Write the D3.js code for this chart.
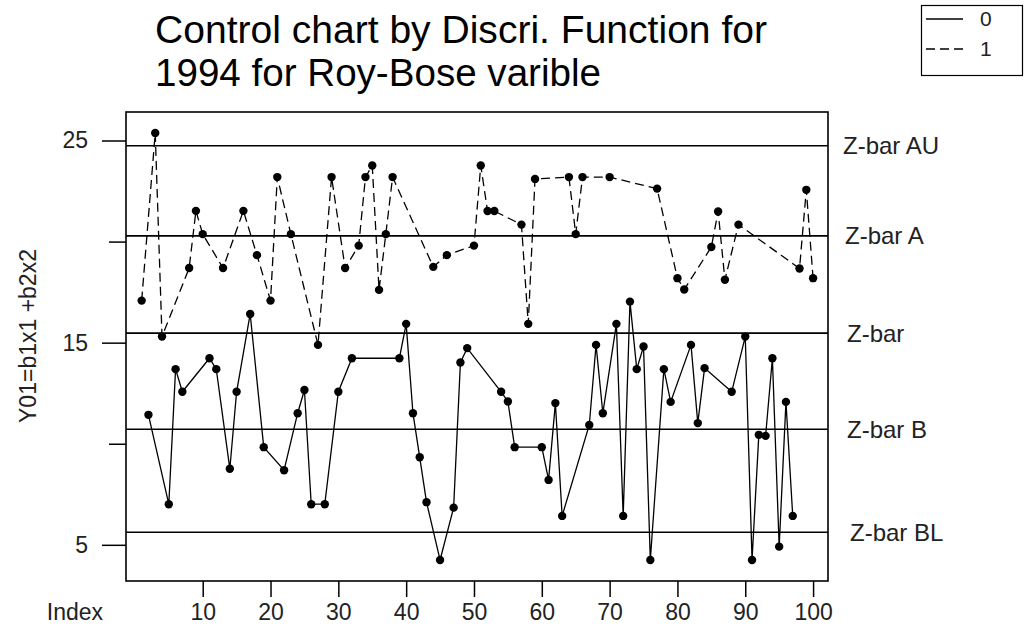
<!DOCTYPE html>
<html>
<head>
<meta charset="utf-8">
<script src="https://cdn.jsdelivr.net/npm/d3@7"></script>
<style>
  body { margin: 0; background: #fff; }
  svg { display: block; font-family: "Liberation Sans", Arial, sans-serif; }
</style>
</head>
<body>
<svg id="chart"></svg>
<script>
const width = 1028;
const height = 639;

// group "0" (solid line)
const index0 = [2, 5, 6, 7, 11, 12, 14, 15, 17, 19, 22, 24, 25, 26, 28, 30, 32, 39, 40, 41,
  42, 43, 45, 47, 48, 49, 54, 55, 56, 60, 61, 62, 63, 67, 68, 69, 71, 72, 73, 74,
  75, 76, 78, 79, 82, 83, 84, 88, 90, 91, 92, 93, 94, 95, 96, 97];
const value0 = [11.43, 7.01, 13.69, 12.57, 14.23, 13.69, 8.76, 12.57, 16.42, 9.83, 8.69, 11.51, 12.66, 7.01, 7.01, 12.57, 14.23, 14.23, 15.93, 11.51,
  9.33, 7.11, 4.25, 6.84, 14.02, 14.73, 12.57, 12.09, 9.83, 9.83, 8.21, 12.01, 6.43, 10.93, 14.89, 11.51, 15.93, 6.43, 17.03, 13.69,
  14.81, 4.25, 13.69, 12.07, 14.89, 11.02, 13.74, 12.57, 15.30, 4.25, 10.44, 10.39, 14.23, 4.91, 12.07, 6.43];

// group "1" (dashed line)
const index1 = [1, 3, 4, 8, 9, 10, 13, 16, 18, 20, 21, 23, 27, 29, 31, 33, 34, 35, 36, 37,
  38, 44, 46, 50, 51, 52, 53, 57, 58, 59, 64, 65, 66, 70, 77, 80, 81, 85, 86, 87,
  89, 98, 99, 100];
const value1 = [17.08, 25.37, 15.30, 18.69, 21.52, 20.37, 18.69, 21.52, 19.33, 17.08, 23.19, 20.37, 14.89, 23.19, 18.69, 19.80, 23.19, 23.76, 17.61, 20.37,
  23.19, 18.75, 19.33, 19.80, 23.76, 21.51, 21.51, 20.84, 15.93, 23.10, 23.19, 20.37, 23.19, 23.19, 22.62, 18.19, 17.63, 19.73, 21.49, 18.11,
  20.84, 18.67, 22.56, 18.19];

// control limits
const limitNames = ["Z-bar AU", "Z-bar A", "Z-bar", "Z-bar B", "Z-bar BL"];
const limitValues = [24.74, 20.28, 15.47, 10.72, 5.62];

const xTicks = [10, 20, 30, 40, 50, 60, 70, 80, 90, 100];
const yTicks = [5, 10, 15, 20, 25];
const yLabelled = [5, 15, 25];

const legendLabels = ["0", "1"];

const box = {left: 126, right: 828, top: 112, bottom: 581};

const svg = d3.select("#chart")
    .attr("width", width)
    .attr("height", height);

const x = d3.scaleLinear()
    .domain([-1.31, 102.2])
    .range([box.left, box.right]);

const y = d3.scaleLinear()
    .domain([3.21, 26.41])
    .range([box.bottom, box.top]);

// title, two lines
svg.append("text")
    .attr("x", 155)
    .attr("y", 43)
    .attr("font-size", 38)
    .attr("textLength", 612)
    .attr("lengthAdjust", "spacingAndGlyphs")
    .attr("fill", "#000")
    .text("Control chart by Discri. Function for");
svg.append("text")
    .attr("x", 155)
    .attr("y", 86)
    .attr("font-size", 38)
    .attr("textLength", 446)
    .attr("lengthAdjust", "spacingAndGlyphs")
    .attr("fill", "#000")
    .text("1994 for Roy-Bose varible");

// control limit lines and labels
limitValues.forEach(v => {
    svg.append("line")
        .attr("x1", box.left)
        .attr("x2", box.right)
        .attr("y1", y(v))
        .attr("y2", y(v))
        .attr("stroke", "#000")
        .attr("stroke-width", 1.6);
});

const labelX = [843, 845, 847, 847, 850];
svg.selectAll(".limit-label")
    .data(limitNames)
    .join("text")
    .attr("class", "limit-label")
    .attr("x", (d, i) => labelX[i])
    .attr("y", (d, i) => y(limitValues[i]))
    .attr("dy", "0.35em")
    .attr("font-size", 24)
    .attr("fill", "#222")
    .text(d => d);

// series
const series = [
    {idx: index0, val: value0, dash: null},
    {idx: index1, val: value1, dash: "9 5"}
];

const line = d3.line()
    .x(d => x(d[0]))
    .y(d => y(d[1]));

series.forEach(s => {
    const pts = s.idx.map((d, i) => [d, s.val[i]]);
    svg.append("path")
        .datum(pts)
        .attr("d", line)
        .attr("fill", "none")
        .attr("stroke", "#000")
        .attr("stroke-width", 1.3)
        .attr("stroke-dasharray", s.dash);
    svg.append("g")
        .selectAll("circle")
        .data(pts)
        .join("circle")
        .attr("cx", d => x(d[0]))
        .attr("cy", d => y(d[1]))
        .attr("r", 4.2)
        .attr("fill", "#000");
});

// plot box
svg.append("rect")
    .attr("x", box.left)
    .attr("y", box.top)
    .attr("width", box.right - box.left)
    .attr("height", box.bottom - box.top)
    .attr("fill", "none")
    .attr("stroke", "#000")
    .attr("stroke-width", 1.6);

// x axis
const xAxis = svg.append("g")
    .attr("transform", `translate(0, ${box.bottom})`)
    .call(d3.axisBottom(x).tickValues(xTicks).tickSize(16).tickSizeOuter(0).tickPadding(7));
xAxis.select(".domain").remove();
xAxis.selectAll(".tick line").attr("stroke-width", 1.5);
xAxis.selectAll(".tick text")
    .attr("font-size", 23)
    .attr("font-family", "Liberation Sans, Arial, sans-serif")
    .attr("fill", "#222");

// y axis
const yAxis = svg.append("g")
    .attr("transform", `translate(${box.left}, 0)`)
    .call(d3.axisLeft(y).tickValues(yTicks).tickSize(24).tickSizeOuter(0).tickPadding(14)
        .tickFormat(d => yLabelled.includes(d) ? d : ""));
yAxis.select(".domain").remove();
yAxis.selectAll(".tick line")
    .attr("stroke-width", 1.5)
    .attr("x2", d => yLabelled.includes(d) ? -24 : -17);
yAxis.selectAll(".tick text")
    .attr("font-size", 23)
    .attr("font-family", "Liberation Sans, Arial, sans-serif")
    .attr("fill", "#222");

// axis titles
svg.append("text")
    .attr("x", 75)
    .attr("y", 612)
    .attr("dy", "0.35em")
    .attr("text-anchor", "middle")
    .attr("font-size", 23)
    .attr("fill", "#222")
    .text("Index");

svg.append("text")
    .attr("transform", "translate(28, 336) rotate(-90)")
    .attr("dy", "0.35em")
    .attr("text-anchor", "middle")
    .attr("font-size", 23)
    .attr("fill", "#222")
    .text("Y01=b1x1 +b2x2");

// legend
const legend = svg.append("g");
legend.append("rect")
    .attr("x", 921.5)
    .attr("y", 5.5)
    .attr("width", 101)
    .attr("height", 70)
    .attr("fill", "#fff")
    .attr("stroke", "#000")
    .attr("stroke-width", 1.2);

legendLabels.forEach((d, i) => {
    const ly = 19 + i * 30;
    legend.append("line")
        .attr("x1", 926)
        .attr("x2", 963)
        .attr("y1", ly)
        .attr("y2", ly)
        .attr("stroke", "#000")
        .attr("stroke-width", 1.3)
        .attr("stroke-dasharray", series[i].dash);
    legend.append("text")
        .attr("x", 980)
        .attr("y", ly)
        .attr("dy", "0.35em")
        .attr("font-size", 21)
        .attr("fill", "#222")
        .text(d);
});
</script>
</body>
</html>
